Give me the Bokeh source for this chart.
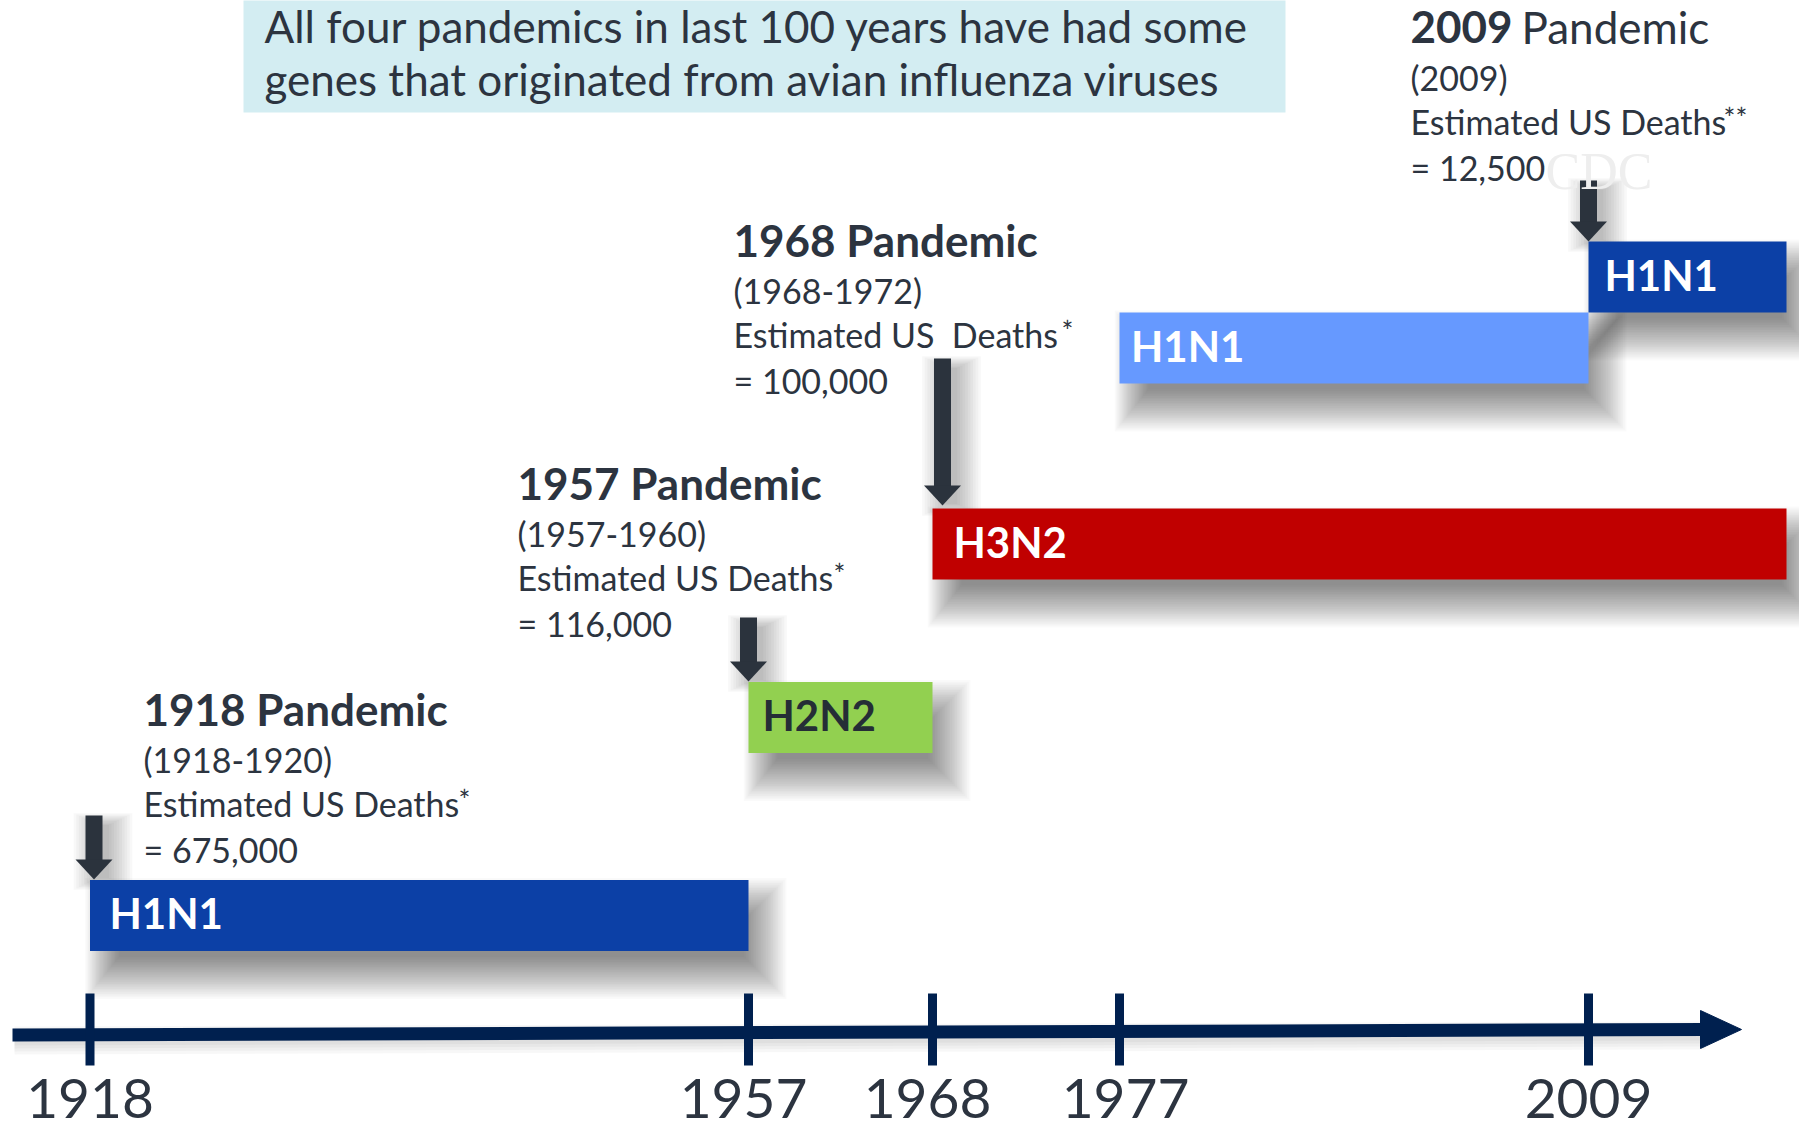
import numpy as np
from bokeh.plotting import figure
from bokeh.models import Range1d, ColumnDataSource
from bokeh.core.properties import value
from bokeh.embed import file_html
from bokeh.resources import INLINE

# ---------------- data ----------------
title_lines = ["All four pandemics in last 100 years have had some",
               "genes that originated from avian influenza viruses"]
tick_years = [1918, 1957, 1968, 1977, 2009]
tick_labels = ["1918", "1957", "1968", "1977", "2009"]
present_year = 2018

subtypes = ["H1N1", "H2N2", "H3N2", "H1N1", "H1N1"]
sub_start = [1918, 1957, 1968, 1977, 2009]
sub_end = [1957, 1968, 2018, 2009, 2018]

pandemic_years = ["1918", "1957", "1968", "2009"]
pandemic_periods = ["(1918-1920)", "(1957-1960)", "(1968-1972)", "(2009)"]
death_labels = ["Estimated US Deaths", "Estimated US Deaths",
                "Estimated US\u00a0 Deaths", "Estimated US Deaths"]
death_notes = ["*", "*", "*", "**"]
us_deaths = [675000, 116000, 100000, 12500]

# ---------------- layout / style ----------------
AXIS_YEARS = tick_years + [present_year]
AXIS_PX = [89.5, 748, 932, 1119, 1588, 1786]
def yx(years):
    return np.interp(np.asarray(years, dtype=float), AXIS_YEARS, AXIS_PX)

def bl(y, fs):
    # place the alphabetic baseline of a text of font size fs at y
    return np.asarray(y, dtype=float) - 0.42 * fs

bar_cy = [915, 717, 543.5, 347.5, 276.5]
BAR_H = 71
bar_colors = ["#0C40A6", "#92D050", "#C00000", "#6699FF", "#0C40A6"]
label_colors = ["#FFFFFF", "#252D36", "#FFFFFF", "#FFFFFF", "#FFFFFF"]
label_inset = [19.5, 14, 21, 11.5, 16]
tick_label_dx = [0, -5, -5, 6, 0]

block_x = [143, 517, 733, 1410]
block_base = [727, 501, 258, 45]
note_dx = [315, 316, 328, 313]
arrow_top = [815, 617, 358, 180]
arrow_tip = [879, 681, 505, 241]
arrow_dx = [4, 0, 10, 0]

TXT = "#2C3440"
NAVY = "#00204F"
ARROW = "#2B333D"
FONT = "Lato"

W, H = 1799, 1133
p = figure(width=W, height=H, output_backend="svg", toolbar_location=None,
           x_range=Range1d(0, W), y_range=Range1d(H, 0),
           min_border=0, border_fill_color="white", background_fill_color="white")
p.axis.visible = False
p.grid.visible = False
p.outline_line_color = None

# title box
p.quad(left=[243], right=[1285], top=[-5], bottom=[112], fill_color="#D3EDF2", line_color=None)
p.text(x=[264, 264], y=bl([44, 97], 44), text=title_lines, text_font=value(FONT),
       text_font_size="44px", text_color=TXT, text_baseline="alphabetic")

# bars
left = yx(sub_start)
right = yx(sub_end)
top = np.array(bar_cy) - BAR_H / 2
bottom = np.array(bar_cy) + BAR_H / 2

# soft shadows (stack of faint, growing rectangles)
K = 26
for k in range(K):
    t = k / (K - 1)
    e = -16 + 42 * t
    p.quad(left=left + 16 - e * 0.8, right=right + 12 + e, top=top + 24 - e, bottom=bottom + 22 + e,
           fill_color="black", fill_alpha=0.021, line_color=None)

# axis shadow
for k in range(4):
    p.line(x=[14, 1705], y=[1040, 1035], line_width=10 + 6 * k, line_color="black", line_alpha=0.03)

# arrows shadow
ax = yx([int(v) for v in pandemic_years]) + np.array(arrow_dx)
for k in range(10):
    e = -3 + 2.6 * k
    p.quad(left=ax - 9 + 9 - e, right=ax + 9 + 9 + e, top=np.array(arrow_top) + 8 - e / 2,
           bottom=np.array(arrow_tip) + e / 2, fill_color="black", fill_alpha=0.028, line_color=None)

src = ColumnDataSource(dict(left=left, right=right, top=top, bottom=bottom,
                            color=bar_colors, lab=subtypes, lc=label_colors,
                            lx=left + np.array(label_inset), ly=bl(np.array(bar_cy) + 15.5, 42)))
p.quad(left="left", right="right", top="top", bottom="bottom", fill_color="color",
       line_color=None, source=src)
p.text(x="lx", y="ly", text="lab", text_color="lc", source=src, text_font=value(FONT),
       text_font_size="42px", text_font_style="bold", text_baseline="alphabetic")

# axis line, arrow head, ticks
p.line(x=[12, 1705], y=[1034.5, 1029], line_width=13, line_color=NAVY)
p.patch(x=[1700, 1741, 1700], y=[1010, 1029, 1048], fill_color=NAVY, line_color=NAVY)
tx = yx(tick_years)
p.segment(x0=tx, y0=[993] * len(tx), x1=tx, y1=[1065] * len(tx), line_width=9, line_color=NAVY)
p.text(x=tx + np.array(tick_label_dx), y=bl([1121] * len(tx), 55), text=tick_labels, text_align="center",
       text_baseline="alphabetic", text_font=value(FONT), text_font_size="55px", text_color=TXT)

# down arrows
at = np.array(arrow_top, dtype=float)
ap = np.array(arrow_tip, dtype=float)
p.quad(left=ax - 8.5, right=ax + 8.5, top=at, bottom=ap - 19, fill_color=ARROW, line_color=None)
p.patches(xs=[[x - 18.5, x + 18.5, x] for x in ax],
          ys=[[t - 20, t - 20, t] for t in ap], fill_color=ARROW, line_color=None)

# text blocks
bx = np.array(block_x, dtype=float)
bb = np.array(block_base, dtype=float)
bold_titles = [f"{y} Pandemic" for y in pandemic_years[:3]]
p.text(x=bx[:3], y=bl(bb[:3], 44), text=bold_titles, text_font=value(FONT), text_font_size="44px",
       text_font_style="bold", text_color=TXT, text_baseline="alphabetic")
p.text(x=[bx[3]], y=bl([bb[3]], 44), text=[pandemic_years[3]], text_font=value(FONT),
       text_font_size="44px", text_font_style="bold", text_color=TXT, text_baseline="alphabetic")
p.text(x=[bx[3] + 111], y=bl([bb[3]], 44), text=["Pandemic"], text_font=value(FONT),
       text_font_size="44px", text_color=TXT, text_baseline="alphabetic")

p.text(x=bx, y=bl(bb + 46, 34), text=pandemic_periods, text_font=value(FONT), text_font_size="34px",
       text_color=TXT, text_baseline="alphabetic")
p.text(x=bx, y=bl(bb + 90, 34), text=death_labels, text_font=value(FONT), text_font_size="34px",
       text_color=TXT, text_baseline="alphabetic")
p.text(x=bx + np.array(note_dx), y=bl(bb + 84, 28), text=death_notes, text_font=value(FONT),
       text_font_size="28px", text_color=TXT, text_baseline="alphabetic")
p.text(x=bx, y=bl(bb + 136, 34), text=[f"= {d:,}" for d in us_deaths], text_font=value(FONT),
       text_font_size="34px", text_color=TXT, text_baseline="alphabetic")

# faint CDC watermark
p.text(x=[1545], y=bl([193], 52), text=["CDC"], text_font=value("Liberation Serif"),
       text_font_size="52px", text_color="#EEEEEE", text_baseline="alphabetic")

open("out.html", "w").write(file_html(p, INLINE))
